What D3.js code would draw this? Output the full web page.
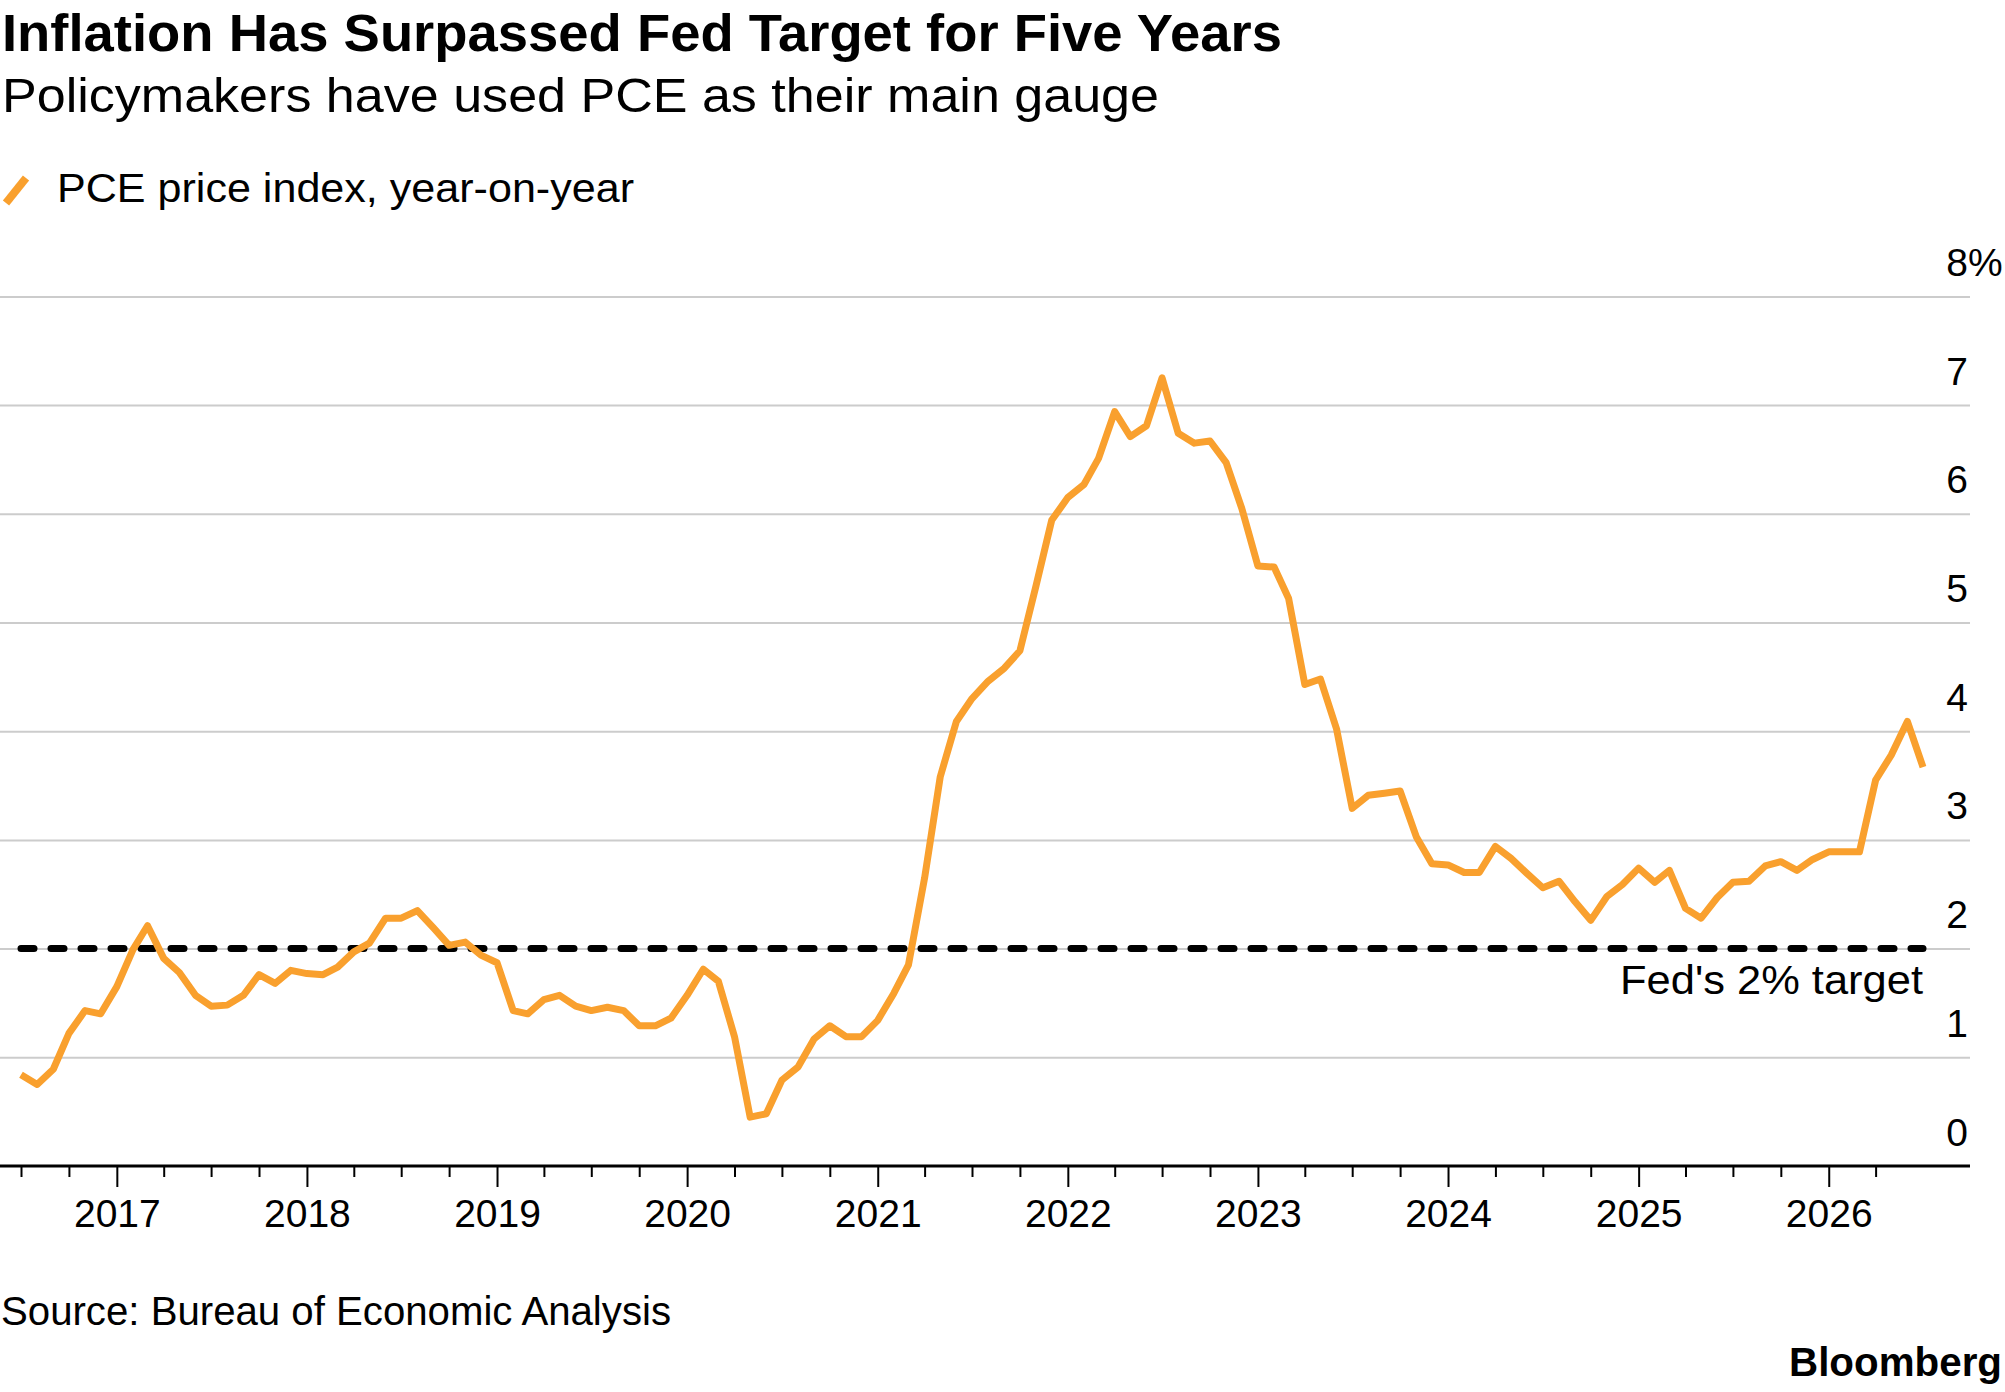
<!DOCTYPE html>
<html lang="en">
    <head>
        <meta charset="UTF-8">
        <title>Inflation Has Surpassed Fed Target for Five Years</title>
        <script src="https://d3js.org/d3.v7.min.js"></script>
        <style>
            html, body {
                margin: 0;
                background-color: white;
            }
            body {
                font-family: "Liberation Sans", Arial, Helvetica, sans-serif;
            }
        </style>
    </head>
    <body>
        <div id="chart"></div>
        <script>

            // monthly PCE price index, year-on-year (%), first value is Jul 2016
            const firstMonth = new Date(2016, 6, 1);
            const pce2016 = [0.84, 0.75, 0.89, 1.22, 1.43, 1.40];
            const pce2017 = [1.65, 1.99, 2.21, 1.91, 1.78, 1.57, 1.47, 1.48, 1.57, 1.76, 1.68, 1.80];
            const pce2018 = [1.77, 1.76, 1.83, 1.97, 2.05, 2.28, 2.28, 2.35, 2.19, 2.03, 2.06, 1.94];
            const pce2019 = [1.87, 1.43, 1.40, 1.53, 1.57, 1.47, 1.43, 1.46, 1.43, 1.29, 1.29, 1.36];
            const pce2020 = [1.57, 1.81, 1.70, 1.19, 0.45, 0.48, 0.79, 0.91, 1.17, 1.29, 1.19, 1.19];
            const pce2021 = [1.34, 1.59, 1.85, 2.65, 3.58, 4.09, 4.30, 4.46, 4.58, 4.74, 5.34, 5.94];
            const pce2022 = [6.15, 6.27, 6.51, 6.94, 6.71, 6.81, 7.25, 6.74, 6.65, 6.67, 6.47, 6.05];
            const pce2023 = [5.52, 5.51, 5.22, 4.43, 4.48, 4.02, 3.29, 3.41, 3.43, 3.45, 3.03, 2.78];
            const pce2024 = [2.77, 2.70, 2.70, 2.94, 2.83, 2.69, 2.56, 2.62, 2.43, 2.26, 2.48, 2.59];
            const pce2025 = [2.74, 2.61, 2.72, 2.37, 2.28, 2.47, 2.61, 2.62, 2.76, 2.80, 2.72, 2.82];
            const pce2026 = [2.89, 2.89, 2.89, 3.55, 3.78, 4.09, 3.67];

            const yTicks = [0, 1, 2, 3, 4, 5, 6, 7, 8];
            const fedTarget = 2;

            const title = "Inflation Has Surpassed Fed Target for Five Years";
            const subtitle = "Policymakers have used PCE as their main gauge";
            const seriesName = "PCE price index, year-on-year";
            const targetLabel = "Fed's 2% target";
            const source = "Source: Bureau of Economic Analysis";

            const font = '"Liberation Sans", Arial, Helvetica, sans-serif';
            const orange = "#f9a02e";

            const width = 2005;
            const height = 1392;
            const plotLeft = 0;
            const plotRight = 1970;
            const plotTop = 296.4;
            const plotBottom = 1166;

            const values = [].concat(pce2016, pce2017, pce2018, pce2019, pce2020, pce2021,
                pce2022, pce2023, pce2024, pce2025, pce2026);
            const data = values.map((v, i) => ({ date: d3.timeMonth.offset(firstMonth, i), value: v }));

            const svg = d3.select("#chart")
                .append("svg")
                .attr("width", width)
                .attr("height", height)
                .attr("font-family", font);

            const x = d3.scaleTime()
                .domain(d3.extent(data, d => d.date))
                .range([21, 1923]);

            const y = d3.scaleLinear()
                .domain([0, 8])
                .range([plotBottom, plotTop]);

            // header
            svg.append("text")
                .attr("x", 2)
                .attr("y", 51)
                .attr("font-size", 51)
                .attr("font-weight", "bold")
                .attr("textLength", 1280)
                .attr("lengthAdjust", "spacingAndGlyphs")
                .text(title);

            svg.append("text")
                .attr("x", 2)
                .attr("y", 112)
                .attr("font-size", 49)
                .attr("textLength", 1157)
                .attr("lengthAdjust", "spacingAndGlyphs")
                .text(subtitle);

            svg.append("line")
                .attr("x1", 6).attr("y1", 203)
                .attr("x2", 26).attr("y2", 178)
                .attr("stroke", orange)
                .attr("stroke-width", 8);

            svg.append("text")
                .attr("x", 57)
                .attr("y", 202)
                .attr("font-size", 41)
                .attr("textLength", 577)
                .attr("lengthAdjust", "spacingAndGlyphs")
                .text(seriesName);

            // gridlines
            svg.append("g")
                .attr("transform", `translate(${plotLeft},0)`)
                .call(d3.axisLeft(y)
                    .tickValues(yTicks.filter(d => d > 0))
                    .tickSize(-(plotRight - plotLeft))
                    .tickFormat(""))
                .call(g => g.select(".domain").remove())
                .selectAll(".tick line")
                .attr("stroke", "#cccccc")
                .attr("stroke-width", 2);

            // y labels sit above their gridlines
            const yLabels = svg.append("g")
                .attr("transform", "translate(1968,0)")
                .call(d3.axisLeft(y)
                    .tickValues(yTicks)
                    .tickSize(0)
                    .tickPadding(0)
                    .tickFormat(d3.format("d")))
                .attr("font-family", font)
                .attr("font-size", 39)
                .attr("color", "#000");

            yLabels.select(".domain").remove();
            yLabels.selectAll(".tick text")
                .attr("x", 0)
                .attr("y", -21)
                .attr("dy", null);

            yLabels.selectAll(".tick")
                .filter(d => d === d3.max(yTicks))
                .append("text")
                .attr("x", 0)
                .attr("y", -21)
                .attr("text-anchor", "start")
                .attr("fill", "#000")
                .text("%");

            // Fed target
            svg.append("line")
                .attr("x1", x.range()[0])
                .attr("x2", x.range()[1])
                .attr("y1", y(fedTarget))
                .attr("y2", y(fedTarget))
                .attr("stroke", "#000")
                .attr("stroke-width", 7)
                .attr("stroke-linecap", "round")
                .attr("stroke-dasharray", "13 17");

            svg.append("text")
                .attr("x", x.range()[1])
                .attr("y", y(fedTarget) + 45)
                .attr("text-anchor", "end")
                .attr("font-size", 41)
                .attr("textLength", 303)
                .attr("lengthAdjust", "spacingAndGlyphs")
                .text(targetLabel);

            // series
            const line = d3.line()
                .x(d => x(d.date))
                .y(d => y(d.value));

            svg.append("path")
                .datum(data)
                .attr("fill", "none")
                .attr("stroke", orange)
                .attr("stroke-width", 7)
                .attr("stroke-linejoin", "round")
                .attr("d", line);

            // x axis, quarterly ticks, year labels in January
            const tickDates = d3.timeMonth.every(3).range(x.domain()[0], x.domain()[1]);

            const xAxis = svg.append("g")
                .attr("transform", `translate(0,${plotBottom})`)
                .call(d3.axisBottom(x)
                    .tickValues(tickDates)
                    .tickSize(11)
                    .tickFormat(d => d.getMonth() === 0 ? d3.timeFormat("%Y")(d) : ""))
                .attr("font-family", font)
                .attr("font-size", 39)
                .attr("color", "#000");

            xAxis.select(".domain").remove();
            xAxis.selectAll(".tick line")
                .attr("stroke-width", 2)
                .attr("y2", d => d.getMonth() === 0 ? 21 : 11);
            xAxis.selectAll(".tick text")
                .attr("y", 61)
                .attr("dy", null);

            svg.append("line")
                .attr("x1", plotLeft)
                .attr("x2", plotRight)
                .attr("y1", plotBottom)
                .attr("y2", plotBottom)
                .attr("stroke", "#000")
                .attr("stroke-width", 3);

            // footer
            svg.append("text")
                .attr("x", 1)
                .attr("y", 1325)
                .attr("font-size", 40)
                .attr("textLength", 670)
                .attr("lengthAdjust", "spacingAndGlyphs")
                .text(source);

            svg.append("text")
                .attr("x", 2002)
                .attr("y", 1376)
                .attr("text-anchor", "end")
                .attr("font-size", 40)
                .attr("font-weight", "bold")
                .attr("textLength", 213)
                .attr("lengthAdjust", "spacingAndGlyphs")
                .text("Bloomberg");

        </script>
    </body>
</html>
